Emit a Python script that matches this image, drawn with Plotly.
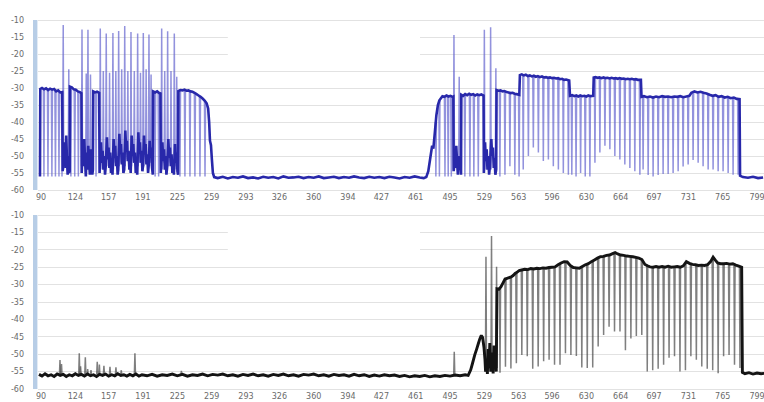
import plotly.graph_objects as go

# ---------------- data (x = sample index, y = level in dB) ----------------
x_tick_vals = [90, 124, 157, 191, 225, 259, 293, 326, 360, 394, 427, 461,
               495, 529, 563, 596, 630, 664, 697, 731, 765, 799]
y_tick_vals = [-10, -15, -20, -25, -30, -35, -40, -45, -50, -55, -60]

# upper panel: envelope / noise trace (x, y)
top_trace_pts = [
    (89, -56.0), (89.3, -30.3), (91, -30.0), (93, -30.4), (95, -30.1), (97, -30.6), (99, -30.2),
    (101, -30.5), (103, -30.3), (105, -31.0), (107, -30.7), (109, -31.3), (111, -31.2),
    (111.5, -54.5), (112.3, -47), (113, -52), (113.7, -46), (114.3, -53.5), (115, -44), (115.7, -51),
    (116.4, -55.5), (117.1, -50), (117.8, -55), (118.4, -54.5),
    (118.7, -29.6), (120.5, -29.8), (122.5, -30.4), (124.5, -30.5), (126.5, -31.0), (128.5, -31.2), (130, -31.5),
    (130.3, -55), (131.2, -48), (132, -53), (132.8, -45), (133.6, -51), (134.4, -56), (135.2, -49), (136, -54),
    (136.8, -47), (137.6, -52), (138.4, -55.5), (139.2, -48), (140, -53), (140.8, -55.5), (141.4, -54),
    (141.7, -31.0), (143.5, -31.3), (145.5, -31.1), (147.6, -31.4),
    (148, -55), (149.4, -46), (150.2, -52), (151, -48.5), (151.8, -54), (152.6, -50), (153.4, -55.5), (154.1, -53),
    (155.3, -44.5), (156.1, -51), (156.9, -47.5), (157.7, -53.5), (158.5, -49), (159.3, -55), (160.1, -51.5), (160.8, -55.5),
    (161.9, -45), (162.7, -50.5), (163.5, -47), (164.3, -53), (165.1, -50), (165.9, -55.5), (166.5, -54),
    (167.6, -43.5), (168.4, -49), (169.2, -46.5), (170, -52.5), (170.8, -49), (171.6, -55), (172.4, -54),
    (173.5, -42.5), (174.3, -48), (175.1, -45.5), (175.9, -51.5), (176.7, -48.5), (177.5, -54), (178.3, -51), (178.8, -55),
    (179.8, -44), (180.6, -50), (181.4, -46.5), (182.2, -52), (183, -49), (183.8, -55), (184.6, -52.5), (185.3, -55.5),
    (186.4, -43), (187.2, -49), (188, -46), (188.8, -52), (189.6, -48.5), (190.4, -54.5), (191, -53),
    (192, -44), (192.8, -49.5), (193.6, -46.5), (194.4, -52.5), (195.2, -49.5), (196, -55), (196.6, -53),
    (197.6, -45.5), (198.4, -50.5), (199.2, -47.5), (200, -53.5), (200.7, -55.5),
    (201, -31.0), (203, -31.3), (205, -31.0), (207, -31.5), (208.3, -31.6),
    (208.6, -55), (210.2, -46), (211, -51.5), (211.8, -48), (212.6, -54), (213.4, -50), (214.2, -55.5), (215, -53),
    (216.1, -45), (216.9, -50.5), (217.7, -47.5), (218.5, -53), (219.3, -49.5), (220.1, -55), (220.9, -52), (221.6, -55.5),
    (222.7, -46.5), (223.5, -52), (224.3, -49), (225.1, -54.5), (225.7, -55.5),
    (226, -30.9), (228, -30.6), (230, -30.7), (232, -30.5), (234, -30.8), (236, -30.7), (238, -31.0), (240, -31.1),
    (242, -31.4), (244, -31.8), (246, -32.2), (248, -32.6), (250, -33.1), (252, -33.7), (254, -34.5), (255.5, -36),
    (256.5, -40), (257.3, -45.5), (258.3, -46.8), (259.2, -51), (260.2, -55), (261.5, -56.2),
    (265, -56.5), (270, -56.1), (275, -56.6), (280, -56.2), (285, -56.4), (290, -56.0), (295, -56.5), (300, -56.3),
    (305, -56.6), (310, -56.1), (315, -56.4), (320, -56.2), (325, -56.6), (330, -56.0), (335, -56.4), (340, -56.3),
    (345, -56.1), (350, -56.5), (355, -56.2), (360, -56.4), (365, -56.0), (370, -56.5), (375, -56.3), (380, -56.1),
    (385, -56.5), (390, -56.2), (395, -56.4), (400, -56.0), (405, -56.3), (410, -56.5), (415, -56.1), (420, -56.4),
    (425, -56.2), (430, -56.5), (435, -56.1), (440, -56.3), (445, -56.6), (450, -56.2), (455, -56.4), (460, -56.0),
    (465, -56.3), (469, -56.5), (471.5, -56.2),
    (473.5, -54.5), (475.5, -50.5), (477.3, -47), (478.5, -47.8), (480, -43), (481.5, -38), (483, -35), (484.5, -33.6),
    (486, -33.0), (487.5, -32.4), (489.5, -32.6), (491.5, -32.2), (493.5, -32.5), (495.5, -32.3), (497.5, -32.6), (498.3, -32.5),
    (498.6, -54.5), (499.6, -49), (500.4, -53.5), (501.2, -47), (502, -52), (502.8, -55.5), (503.6, -50), (504.4, -54),
    (505.2, -51.5), (505.9, -55.5),
    (506.2, -32.0), (508, -32.3), (510, -31.8), (512, -32.1), (514, -31.7), (516, -32.0), (518, -31.8), (520, -32.2),
    (522, -31.9), (524, -32.1), (526, -31.9), (528.2, -32.2),
    (528.5, -55), (529.7, -46), (530.5, -51.5), (531.3, -48), (532.1, -54), (532.9, -50), (533.7, -55.5), (534.5, -53),
    (535.9, -45), (536.7, -50), (537.5, -47.5), (538.3, -53.5), (539.1, -50.5), (539.9, -55.5), (540.7, -54),
    (541.1, -30.6), (543, -30.8), (545, -30.7), (547, -31.0), (549, -30.9), (551, -31.2), (553, -31.3), (555, -31.5),
    (557, -31.4), (559, -31.7), (561, -31.8), (563.6, -32.0),
    (564.2, -26.2), (566, -26.0), (568, -26.3), (570, -26.1), (572, -26.5), (574, -26.3), (576, -26.6), (578, -26.4),
    (580, -26.7), (582, -26.5), (584, -26.8), (586, -26.6), (588, -26.9), (590, -26.8), (592, -27.0), (594, -26.9),
    (596, -27.1), (598, -27.0), (600, -27.2), (602, -27.1), (604, -27.4), (606, -27.3), (608, -27.6), (610, -27.5), (613, -27.8),
    (613.8, -32.3), (616, -32.1), (618, -32.4), (620, -32.2), (622, -32.5), (624, -32.2), (626, -32.4), (628, -32.3),
    (630, -32.5), (632, -32.2), (634, -32.4), (636.8, -32.3),
    (637.3, -26.9), (639, -26.8), (641, -27.0), (643, -26.9), (645, -27.1), (647, -26.9), (649, -27.1), (651, -27.0),
    (653, -27.2), (655, -27.0), (657, -27.2), (659, -27.1), (661, -27.3), (663, -27.1), (665, -27.3), (667, -27.2),
    (669, -27.4), (671, -27.3), (673, -27.4), (675, -27.3), (677, -27.5), (679, -27.4), (681, -27.6), (684, -27.6),
    (684.6, -32.6), (687, -32.4), (690, -32.7), (693, -32.5), (696, -32.8), (699, -32.5), (702, -32.7), (705, -32.4),
    (708, -32.6), (711, -32.5), (714, -32.7), (717, -32.5), (720, -32.6), (723, -32.4), (726, -32.7), (729, -32.5),
    (732, -32.3), (734, -31.4), (737, -31.0), (740, -31.3), (743, -31.1), (746, -31.4), (749, -31.6), (752, -32.0),
    (755, -32.3), (758, -32.1), (761, -32.6), (764, -32.4), (767, -32.8), (770, -32.6), (773, -33.0), (776, -32.8),
    (779, -33.2), (781.7, -33.3),
    (782.2, -55.8), (785, -56.2), (790, -56.4), (795, -56.1), (800, -56.5), (805, -56.3),
]

# upper panel: short pulses (x, level before, extreme value reached)
top_pulses = [
    (92.9, -30.3, -56), (96.9, -30.5, -56), (100.8, -30.4, -56), (104.3, -30.8, -56), (107.8, -30.9, -56), (110.8, -31.2, -56),
    (112.0, -54, -11.5), (117.5, -53, -24.5),
    (119.6, -29.7, -56), (123.4, -30.4, -56), (127.0, -31.0, -56),
    (130.6, -53, -12.8), (134.8, -52, -25.7), (136.5, -52, -12.9), (139.0, -51, -26.0),
    (144.5, -31.2, -56),
    (148.7, -54, -12.5), (151.7, -53, -25.0), (154.6, -53, -14.0), (157.9, -52, -25.5), (161.2, -54, -13.8),
    (164.1, -52, -25.0), (166.9, -53, -13.2), (169.9, -52, -24.5), (172.9, -53, -11.8), (176.0, -51, -25.0),
    (179.1, -53, -13.5), (182.4, -52, -25.0), (185.7, -53, -14.0), (188.5, -52, -25.5), (191.3, -53, -13.8),
    (194.1, -52, -24.5), (196.9, -53, -14.3), (199.0, -52, -26.0),
    (203.0, -31.3, -56), (206.5, -31.2, -56),
    (209.5, -54, -12.5), (212.5, -52, -25.0), (215.4, -53, -13.3), (218.7, -52, -25.0), (222.0, -54, -14.0), (224.4, -53, -26.7),
    (227.6, -30.7, -56), (232.5, -30.6, -56), (237.5, -30.9, -56), (242.4, -31.4, -56), (247.4, -32.4, -56), (252.4, -33.8, -56),
    (481.0, -40, -56), (484.5, -33.6, -56),
    (490.0, -32.5, -56), (493.2, -32.4, -56), (496.3, -32.4, -56),
    (498.9, -54, -14.4), (504.1, -53, -26.7),
    (509.7, -31.9, -56), (514.7, -31.8, -56), (518.6, -31.9, -56), (523.0, -32.0, -56),
    (529.0, -54, -12.9), (535.2, -54, -12.1), (540.4, -54, -24.2),
    (544.4, -30.7, -56), (549.4, -30.9, -55.5), (554.3, -31.3, -53), (559.2, -31.6, -55.5), (563.4, -32.0, -56),
    (567.5, -26.3, -54), (572.6, -26.5, -50), (577.5, -26.5, -47.5), (582.5, -26.5, -49), (587.4, -26.9, -51.5),
    (592.4, -27.0, -51), (597.3, -27.1, -53), (602.3, -27.1, -54), (607.2, -27.4, -55), (612.2, -27.7, -55.5),
    (615.6, -32.2, -55.5), (619.8, -32.3, -56), (624.3, -32.3, -55), (628.9, -32.4, -56), (633.5, -32.4, -56),
    (638.5, -26.9, -52), (643.4, -27.0, -49), (648.4, -27.1, -47), (653.3, -27.1, -48), (658.2, -27.2, -50),
    (663.2, -27.2, -51), (668.1, -27.3, -52.5), (673.1, -27.4, -53.5), (678.0, -27.5, -54.5), (683.0, -27.6, -55.5),
    (686.2, -32.5, -54), (691.2, -32.6, -55.6), (696.1, -32.7, -56), (701.1, -32.6, -55.6), (706.0, -32.6, -55.3),
    (711.0, -32.6, -55.3), (715.9, -32.6, -55), (720.9, -32.6, -54.5), (725.8, -32.6, -53.1), (730.8, -32.5, -52.5),
    (735.7, -31.2, -51.2), (740.7, -31.3, -52), (745.6, -31.4, -53), (750.6, -32.0, -54), (755.5, -32.3, -54),
    (760.5, -32.2, -54.5), (765.4, -32.7, -54.5), (770.4, -32.7, -55), (775.3, -32.9, -55.5), (780.3, -33.2, -55.5),
]

# lower panel: envelope / noise trace (x, y)
bottom_trace_pts = [
    (88, -55.8), (91, -56.3), (94, -55.6), (97, -56.2), (100, -55.9), (103, -56.4), (106, -55.7), (109, -56.1),
    (112, -55.8), (115, -56.4), (118, -55.9), (121, -56.2), (124, -55.6), (127, -56.1), (130, -55.8), (133, -56.3),
    (136, -55.7), (139, -56.2), (142, -55.9), (145, -56.4), (148, -55.8), (151, -56.1), (154, -55.7), (157, -56.3),
    (160, -55.9), (163, -56.2), (166, -55.6), (169, -56.1), (172, -55.9), (175, -56.3), (178, -55.8), (181, -56.2),
    (184, -55.7), (187, -56.3), (190, -55.9), (195, -56.2), (200, -55.8), (205, -56.3), (210, -55.9), (215, -56.1),
    (220, -55.7), (225, -56.2), (230, -55.8), (235, -56.3), (240, -55.9), (245, -56.1), (250, -55.7), (255, -56.2),
    (260, -55.8), (265, -56.0), (270, -55.7), (275, -56.2), (280, -55.9), (285, -56.3), (290, -55.8), (295, -56.1),
    (300, -55.7), (305, -56.2), (310, -55.9), (315, -56.3), (320, -55.8), (325, -56.1), (330, -55.7), (335, -56.2),
    (340, -55.9), (345, -56.3), (350, -55.8), (355, -56.0), (360, -55.7), (365, -56.2), (370, -55.9), (375, -56.3),
    (380, -55.8), (385, -56.1), (390, -55.9), (395, -56.3), (400, -55.8), (405, -56.2), (410, -55.9), (415, -56.4),
    (420, -56.0), (425, -56.3), (430, -55.9), (435, -56.2), (440, -56.0), (445, -56.4), (450, -56.1), (455, -56.5),
    (460, -56.2), (465, -56.4), (470, -56.1), (475, -56.5), (480, -56.2), (485, -56.4), (490, -56.1), (495, -56.3),
    (500, -56.0), (505, -56.2), (510, -55.9), (513, -56.1),
    (515.5, -54.5), (517.3, -52.6), (519.5, -50.2), (521.3, -48.6), (523, -47.0), (524.5, -45.6), (526, -44.6),
    (527.3, -45.2), (528.6, -48.0), (529.6, -51.5), (530.2, -55.0),
    (531.2, -51.5), (532, -55.7), (532.8, -48.5), (533.6, -54), (534.4, -46.8), (535.3, -55), (536.9, -49.5),
    (537.7, -55.5), (538.5, -47.5), (539.3, -53), (540, -49.5), (540.8, -55),
    (541.5, -31.2), (543.5, -31.3), (545.5, -30.6), (547.5, -29.5), (549.5, -28.4), (551.5, -28.2), (553.5, -28.0),
    (555.5, -27.8), (557.5, -27.4), (559.5, -26.8), (561.5, -26.4), (563.5, -26.0), (566, -25.8), (569, -25.6),
    (572, -25.7), (575, -25.4), (578, -25.5), (581, -25.3), (584, -25.4), (587, -25.2), (590, -25.3), (593, -25.1),
    (596, -25.0), (599, -24.9), (602, -24.3), (605, -23.8), (608, -23.4), (611, -23.5), (614, -24.5), (617, -25.1),
    (620, -25.2), (623, -25.3), (626, -24.8), (629, -24.3), (632, -24.0), (635, -23.4), (638, -22.9), (641, -22.4),
    (644, -22.0), (647, -21.9), (650, -21.6), (653, -21.5), (656, -21.1), (658.5, -20.8), (661, -21.2), (664, -21.5),
    (667, -21.6), (670, -21.8), (673, -21.9), (676, -22.0), (679, -22.2), (682, -22.4), (685, -22.8), (688, -24.2),
    (690.5, -24.6), (693, -24.9), (696, -25.0), (699, -24.8), (702, -25.0), (705, -24.8), (708, -25.0), (711, -24.7),
    (714, -25.0), (717, -24.9), (720, -24.8), (723, -25.0), (726, -24.6), (729, -23.4), (732, -23.9), (735, -24.2),
    (738, -24.3), (741, -24.5), (744, -24.4), (747, -24.5), (750, -24.3), (753, -23.4), (755.5, -22.1), (757.5, -22.9),
    (760, -23.8), (763, -24.0), (766, -24.0), (769, -23.9), (772, -24.1), (775, -24.0), (778, -24.4), (781, -24.7),
    (783.8, -25.0),
    (784.5, -55.2), (787, -55.6), (791, -55.3), (795, -55.7), (799, -55.4), (803, -55.6), (806, -55.5),
]

# lower panel: short pulses (x, level before, extreme value reached)
bottom_pulses = [
    (108.8, -55.8, -51.7), (110.3, -56.0, -52.8), (127.9, -55.8, -49.7), (129.2, -56.0, -53.5),
    (133.9, -55.8, -50.9), (136.2, -56.0, -54.3), (139.5, -56.0, -54.6), (145.7, -55.8, -52.2),
    (147.8, -56.0, -53.0), (152.3, -55.8, -53.3), (158.3, -55.8, -53.6), (164.2, -55.8, -53.8),
    (169.5, -56.0, -54.6), (183.0, -55.8, -49.7), (229.0, -56.0, -54.8), (499.2, -56.0, -49.3),
    (530.6, -55, -22.0), (536.1, -54, -16.0), (541.1, -54, -24.9),
    (544.5, -31.1, -55.3), (549.9, -28.4, -53.6), (555.3, -27.8, -54.1), (560.7, -26.6, -52.6), (566.1, -25.8, -50.2),
    (571.5, -25.7, -50.6), (576.9, -25.4, -54.2), (582.3, -25.3, -53.5), (587.7, -25.2, -52.0), (593.1, -25.1, -51.6),
    (598.5, -24.9, -53.0), (603.9, -23.9, -53.0), (609.3, -23.4, -49.7), (614.7, -24.5, -50.2), (620.1, -25.2, -50.5),
    (625.5, -25.0, -53.8), (630.9, -24.3, -54.0), (636.3, -23.4, -53.8), (641.7, -22.4, -47.8), (647.1, -21.9, -44.5),
    (652.5, -21.5, -42.1), (657.9, -20.9, -43.5), (663.3, -21.4, -43.5), (668.7, -21.6, -48.9), (674.1, -21.9, -45.5),
    (679.5, -22.2, -44.8), (684.9, -22.7, -44.5), (690.3, -24.5, -55.0), (695.7, -24.9, -54.6), (701.1, -24.9, -54.2),
    (706.5, -24.9, -53.0), (711.9, -24.8, -51.0), (717.3, -24.9, -50.6), (722.7, -24.9, -55.0), (728.1, -23.8, -54.6),
    (733.5, -23.9, -50.6), (738.9, -24.3, -51.6), (744.3, -24.4, -53.5), (749.7, -24.3, -54.2), (755.1, -22.3, -54.6),
    (760.5, -23.8, -55.5), (765.9, -24.0, -50.6), (771.3, -24.0, -50.2), (776.7, -24.5, -53.0), (782.1, -24.9, -54.0),
]


def pulse_path(pulses, half=0.55):
    xs, ys = [], []
    for x, lv, pk in pulses:
        xs += [x - half, x, x + half, None]
        ys += [lv, pk, lv, None]
    return xs, ys


W, H = 764, 402
fig = go.Figure()

panels = [
    ("x", "y", top_trace_pts, top_pulses, "#2828aa", "rgba(95,95,205,0.68)", 2.6),
    ("x2", "y2", bottom_trace_pts, bottom_pulses, "#141414", "rgba(60,60,60,0.66)", 2.9),
]
for xa, ya, pts, pulses, dark, light, wid in panels:
    px, py = pulse_path(pulses)
    fig.add_trace(go.Scatter(x=px, y=py, mode="lines", xaxis=xa, yaxis=ya,
                             line=dict(color=light, width=1.5, simplify=False),
                             hoverinfo="skip", showlegend=False))
    fig.add_trace(go.Scatter(x=[p[0] for p in pts], y=[p[1] for p in pts], mode="lines",
                             xaxis=xa, yaxis=ya,
                             line=dict(color=dark, width=wid, simplify=False),
                             hoverinfo="skip", showlegend=False))

x_range = [87.03, 805.9]
tickfont = dict(family="DejaVu Sans, Verdana, sans-serif", size=8, color="#6a6a6a")

xcommon = dict(range=x_range, tickvals=x_tick_vals, ticktext=[str(v) for v in x_tick_vals],
               showgrid=False, zeroline=False, showline=False, ticks="",
               tickfont=tickfont, ticklabelstandoff=-2, ticklabeloverflow="allow",
               automargin=False, fixedrange=True)
ycommon = dict(range=[-61, -9], tickvals=y_tick_vals, ticktext=[str(v) for v in y_tick_vals],
               showgrid=True, gridcolor="#e2e2e2", gridwidth=1, zeroline=False, showline=False,
               ticks="", tickfont=tickfont, ticklabelstandoff=13, automargin=False, fixedrange=True)

top_dom = [1 - 193.4 / H, 1 - 16.6 / H]
bot_dom = [1 - 392.48 / H, 1 - 211.52 / H]

fig.update_layout(
    width=W, height=H,
    margin=dict(l=38, r=0, t=0, b=0, autoexpand=False),
    paper_bgcolor="white", plot_bgcolor="white",
    showlegend=False,
    xaxis=dict(domain=[0, 1], anchor="y", **xcommon),
    yaxis=dict(domain=top_dom, anchor="x", **ycommon),
    xaxis2=dict(domain=[0, 1], anchor="y2", **xcommon),
    yaxis2=dict(domain=bot_dom, anchor="x2", **ycommon),
)

shapes = []
# gaps in the upper gridlines
for xr, yr in (("x", "y"), ("x2", "y2")):
    shapes.append(dict(type="rect", xref=xr, yref=yr, x0=275, x1=465.3, y0=-22.6, y1=-12.4,
                       fillcolor="white", line=dict(width=0), layer="between"))
# light blue scroll bars at the left edge of each panel
for y0, y1 in ((190, 20), (389, 215)):
    shapes.append(dict(type="rect", xref="paper", yref="paper",
                       x0=-5.0 / (W - 38), x1=-0.6 / (W - 38),
                       y0=1 - y0 / H, y1=1 - y1 / H,
                       fillcolor="#b7cde6", line=dict(width=0), layer="above"))
fig.update_layout(shapes=shapes)

fig.write_html("out.html", config={"displayModeBar": False, "staticPlot": True})

# remove the browser's default page margin so the figure fills the window exactly
with open("out.html", "r", encoding="utf-8") as f:
    html = f.read()
html = html.replace("<head>", "<head><style>html,body{margin:0;padding:0;overflow:hidden;}</style>", 1)
with open("out.html", "w", encoding="utf-8") as f:
    f.write(html)
